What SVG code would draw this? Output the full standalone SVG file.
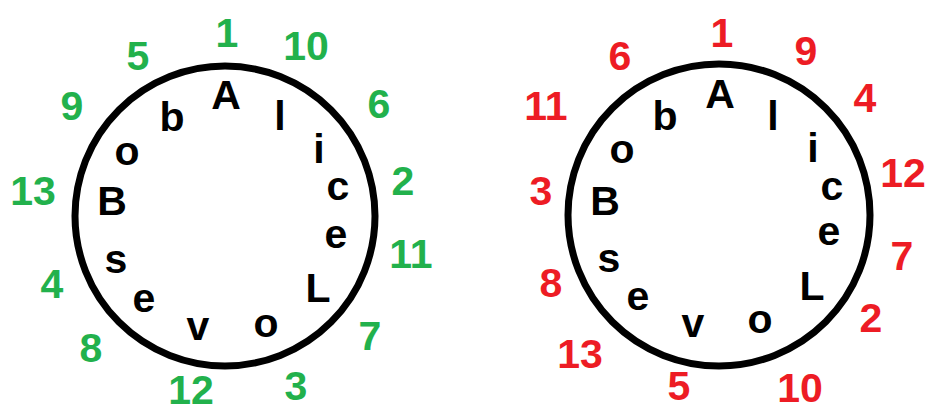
<svg xmlns="http://www.w3.org/2000/svg" width="927" height="413" viewBox="0 0 927 413">
<style>
text{font-family:"Liberation Sans",Arial,sans-serif;font-weight:bold;font-size:41px;text-anchor:middle}
.l{fill:#000}
.g{fill:#22B14C}
.r{fill:#ED1C24}
.ring{fill:none;stroke:#000;stroke-width:7}
</style>
<rect width="927" height="413" fill="#fff"/>
<g id="left-circle">
<circle class="ring" cx="225" cy="216" r="150"/>
<text class="l" x="226" y="109">A</text>
<text class="l" x="280" y="130">l</text>
<text class="l" x="319" y="163">i</text>
<text class="l" x="338" y="200">c</text>
<text class="l" x="336" y="248">e</text>
<text class="l" x="318" y="302">L</text>
<text class="l" x="266" y="337">o</text>
<text class="l" x="198" y="340">v</text>
<text class="l" x="144" y="312">e</text>
<text class="l" x="116" y="273">s</text>
<text class="l" x="112" y="215">B</text>
<text class="l" x="127" y="165">o</text>
<text class="l" x="172" y="131">b</text>
</g>
<g id="left-numbers">
<text class="g" x="227" y="47">1</text>
<text class="g" x="306" y="60">10</text>
<text class="g" x="379" y="118">6</text>
<text class="g" x="403" y="195">2</text>
<text class="g" x="411" y="268">11</text>
<text class="g" x="370" y="350">7</text>
<text class="g" x="296" y="400">3</text>
<text class="g" x="191" y="404">12</text>
<text class="g" x="91" y="362">8</text>
<text class="g" x="52" y="298">4</text>
<text class="g" x="33" y="205">13</text>
<text class="g" x="72" y="120">9</text>
<text class="g" x="138" y="70">5</text>
</g>
<g id="right-circle">
<circle class="ring" cx="719" cy="215" r="151"/>
<text class="l" x="720" y="108">A</text>
<text class="l" x="773" y="130">l</text>
<text class="l" x="813" y="162">i</text>
<text class="l" x="832" y="200">c</text>
<text class="l" x="829" y="245">e</text>
<text class="l" x="812" y="300">L</text>
<text class="l" x="760" y="333">o</text>
<text class="l" x="693" y="337">v</text>
<text class="l" x="638" y="310">e</text>
<text class="l" x="609" y="272">s</text>
<text class="l" x="605" y="215">B</text>
<text class="l" x="622" y="163">o</text>
<text class="l" x="665" y="130">b</text>
</g>
<g id="right-numbers">
<text class="r" x="722" y="47">1</text>
<text class="r" x="806" y="65">9</text>
<text class="r" x="865" y="112">4</text>
<text class="r" x="903" y="187">12</text>
<text class="r" x="902" y="270">7</text>
<text class="r" x="871" y="332">2</text>
<text class="r" x="800" y="402">10</text>
<text class="r" x="679" y="400">5</text>
<text class="r" x="580" y="368">13</text>
<text class="r" x="551" y="297">8</text>
<text class="r" x="541" y="205">3</text>
<text class="r" x="546" y="120">11</text>
<text class="r" x="620" y="70">6</text>
</g>
</svg>
